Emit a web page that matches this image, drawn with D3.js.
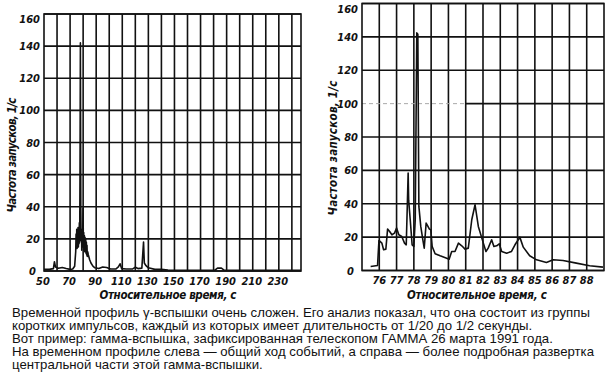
<!DOCTYPE html>
<html lang="ru">
<head>
<meta charset="UTF-8">
<script src="https://d3js.org/d3.v7.min.js"></script>
<style>
body { margin: 0; background: #fff; }
svg { display: block; }
.tick-lab { font-family: "Liberation Sans Narrow", "DejaVu Sans Condensed", sans-serif; font-style: italic; font-weight: bold; font-size: 11px; fill: #111; }
.ax-title { font-family: "Liberation Sans Narrow", "DejaVu Sans Condensed", sans-serif; font-style: italic; font-weight: bold; font-size: 11.5px; fill: #111; }
.caption { font-family: "Liberation Sans", Arial, sans-serif; font-size: 13.2px; fill: #111; }
</style>
</head>
<body>
<div id="chart"></div>
<script>
// count rate, 1/s
var yTicks = [0, 20, 40, 60, 80, 100, 120, 140, 160];

// left panel: whole burst
var leftXTicks = [50, 70, 90, 110, 130, 150, 170, 190, 210, 230];
var leftGrid = [60, 70, 80, 90, 100, 110, 120, 130, 140, 150, 160, 170, 180, 190, 200, 210, 220, 230, 240];
var leftTime = [50, 54, 57.2, 58, 58.8, 61, 64, 67, 70, 72, 73.5, 74.3,
  74.6, 74.85, 75.1, 75.35, 75.6, 75.85, 76.1, 76.35, 76.6, 76.85, 77.1, 77.35,
  77.6, 77.9, 78.2, 78.45, 78.7, 78.95, 79.2, 79.45, 79.7, 79.95, 80.2, 80.45,
  80.7, 80.95, 81.2, 81.45, 81.7, 81.95, 82.2, 82.45, 82.7, 82.95, 83.2, 83.5,
  84, 85, 86, 87.5, 89, 92, 95, 98, 101, 105, 107, 108.3, 109.5, 113, 118, 120,
  122, 125, 126.3, 126.9, 128, 130, 135, 140, 145, 160, 181, 183, 186, 188, 200, 247];
var leftRate = [1, 1, 1.5, 5.8, 2.5, 1.7, 2.2, 1.5, 1, 1.2, 3, 12,
  23, 15, 26, 14, 24, 16, 27, 15, 25, 17, 30, 18,
  60, 142, 40, 19, 26, 13, 22, 15, 25, 39, 15, 24,
  13, 22, 12, 21, 12, 20, 11, 18, 10, 16, 9, 12,
  10, 7, 5, 3, 2, 1.5, 2.5, 2.2, 1.2, 1.2, 2.5, 4.5, 1.5, 1.2, 1.3, 2.3,
  1.5, 1.8, 18, 5, 3.5, 2, 1, 1, 0.6, 0.5, 0.5, 1.8, 1.8, 0.6, 0.4, 0.4];

// right panel: central part of the burst
var rightXTicks = [76, 77, 78, 79, 80, 81, 82, 83, 84, 85, 86, 87, 88];
var rightGrid = [76, 77, 78, 79, 80, 81, 82, 83, 84, 85, 86, 87, 88];
var rightTime = [75.5, 75.9, 75.98, 76.15, 76.25, 76.38, 76.48, 76.6, 76.73, 76.88, 77.0, 77.13,
  77.3, 77.46, 77.56, 77.63, 77.67, 77.7, 77.79, 77.9, 78.0, 78.08, 78.17, 78.23,
  78.29, 78.4, 78.52, 78.6, 78.71, 78.8, 78.9, 78.98, 79.06, 79.23, 79.52, 79.9,
  80.04, 80.19, 80.38, 80.58, 80.77, 80.96, 81.15, 81.35, 81.54, 81.73, 82.02, 82.17,
  82.3, 82.5, 82.63, 82.79, 82.94, 83.08, 83.37, 83.65, 83.85, 84.04, 84.13, 84.33,
  84.7, 85.1, 85.67, 86.06, 86.63, 87.4, 88.17, 88.94];
var rightRate = [2.4, 3, 18, 16.4, 12.4, 12.8, 24.8, 23.4, 21.4, 22.4, 25.4, 21.4,
  20.4, 16.4, 15.4, 42.4, 58.4, 42, 30.4, 15.4, 14.4, 30.4, 142.4, 141.6,
  38.4, 26.4, 18.4, 13.4, 28.4, 26.8, 24.8, 24.4, 14.4, 10, 8.8, 7.4,
  6.8, 11.4, 11.4, 16.4, 14.8, 12.8, 13.4, 30.4, 39.4, 26.4, 16.4, 11.4,
  13.4, 18.4, 14.4, 14.8, 16, 11.4, 10.4, 11.4, 15.4, 18.4, 20, 14,
  8.8, 6.4, 4.8, 6.4, 6, 4.4, 2.8, 2];

var captionLines = [
  "Временной профиль γ-вспышки очень сложен. Его анализ показал, что она состоит из группы",
  "коротких импульсов, каждый из которых имеет длительность от 1/20 до 1/2 секунды.",
  "Вот пример: гамма-вспышка, зафиксированная телескопом ГАММА 26 марта 1991 года.",
  "На временном профиле слева — общий ход событий, а справа — более подробная развертка",
  "центральной части этой гамма-вспышки."
];

var svg = d3.select("#chart").append("svg")
  .attr("width", 610)
  .attr("height", 374);

function drawPanel(p) {
  var x = d3.scaleLinear().domain(p.xDomain).range([p.left, p.right]);
  var y = d3.scaleLinear().domain([0, 160]).range([p.bottom, p.top]);
  var g = svg.append("g");

  // grid
  g.selectAll(".vg").data(p.grid).enter().append("line")
    .attr("x1", d => x(d)).attr("x2", d => x(d))
    .attr("y1", p.top).attr("y2", p.bottom)
    .attr("stroke", "#111").attr("stroke-width", 1.6);
  g.selectAll(".hg").data(yTicks).enter().append("line")
    .attr("x1", d => (d === 100 && p.fadedTo) ? x(p.fadedTo) : p.left)
    .attr("x2", p.right)
    .attr("y1", d => y(d)).attr("y2", d => y(d))
    .attr("stroke", "#111").attr("stroke-width", 1.6);
  if (p.fadedTo) {
    // scan: left part of the 100 line is barely visible
    g.append("line")
      .attr("x1", p.left).attr("x2", x(p.fadedTo))
      .attr("y1", y(100)).attr("y2", y(100))
      .attr("stroke", "#aaa").attr("stroke-width", 1)
      .attr("stroke-dasharray", "4,3");
  }
  g.append("rect")
    .attr("x", p.left).attr("y", p.top)
    .attr("width", p.right - p.left).attr("height", p.bottom - p.top)
    .attr("fill", "none").attr("stroke", "#111").attr("stroke-width", 1.6);

  // tick labels
  g.selectAll(".yl").data(yTicks).enter().append("text")
    .attr("class", "tick-lab")
    .attr("x", d => p.left - (d === 0 ? 8 : 4))
    .attr("y", d => y(d) + (d === 160 ? 9 : 4))
    .attr("text-anchor", "end")
    .text(d => d);
  g.selectAll(".xl").data(p.xTicks).enter().append("text")
    .attr("class", "tick-lab")
    .attr("x", d => x(d) + p.labShift).attr("y", p.bottom + 13.5)
    .attr("text-anchor", "middle")
    .text(d => d);

  // titles
  g.append("text").attr("class", "ax-title")
    .attr("transform", "translate(" + p.yTitleX + "," + p.yTitleY + ") rotate(-90)")
    .attr("text-anchor", "middle")
    .attr("textLength", p.yTitleLen).attr("lengthAdjust", "spacing")
    .text("Частота запусков, 1/с");
  g.append("text").attr("class", "ax-title")
    .attr("x", p.xTitleX).attr("y", 299)
    .attr("text-anchor", "middle")
    .attr("textLength", p.xTitleLen).attr("lengthAdjust", "spacing")
    .text("Относительное время, с");

  // data
  var line = d3.line().x(d => x(d[0])).y(d => y(d[1]));
  g.append("path")
    .datum(d3.zip(p.time, p.rate))
    .attr("d", line)
    .attr("fill", "none")
    .attr("stroke", "#111")
    .attr("stroke-width", 1.6)
    .attr("stroke-linejoin", "round");
}

drawPanel({
  xDomain: [50, 247], left: 44, right: 301, top: 14, bottom: 271,
  grid: leftGrid, xTicks: leftXTicks, labShift: -1,
  time: leftTime, rate: leftRate,
  yTitleX: 16, yTitleY: 155, yTitleLen: 115,
  xTitleX: 168, xTitleLen: 137
});

drawPanel({
  xDomain: [75, 89], left: 362, right: 604, top: 3.5, bottom: 270.5,
  grid: rightGrid, xTicks: rightXTicks, labShift: 0, fadedTo: 81,
  time: rightTime, rate: rightRate,
  yTitleX: 337, yTitleY: 148, yTitleLen: 135,
  xTitleX: 477, xTitleLen: 140
});

svg.selectAll(".caption").data(captionLines).enter().append("text")
  .attr("class", "caption")
  .attr("x", 12)
  .attr("y", (d, i) => 317 + i * 13.1)
  .text(d => d);
</script>
</body>
</html>
